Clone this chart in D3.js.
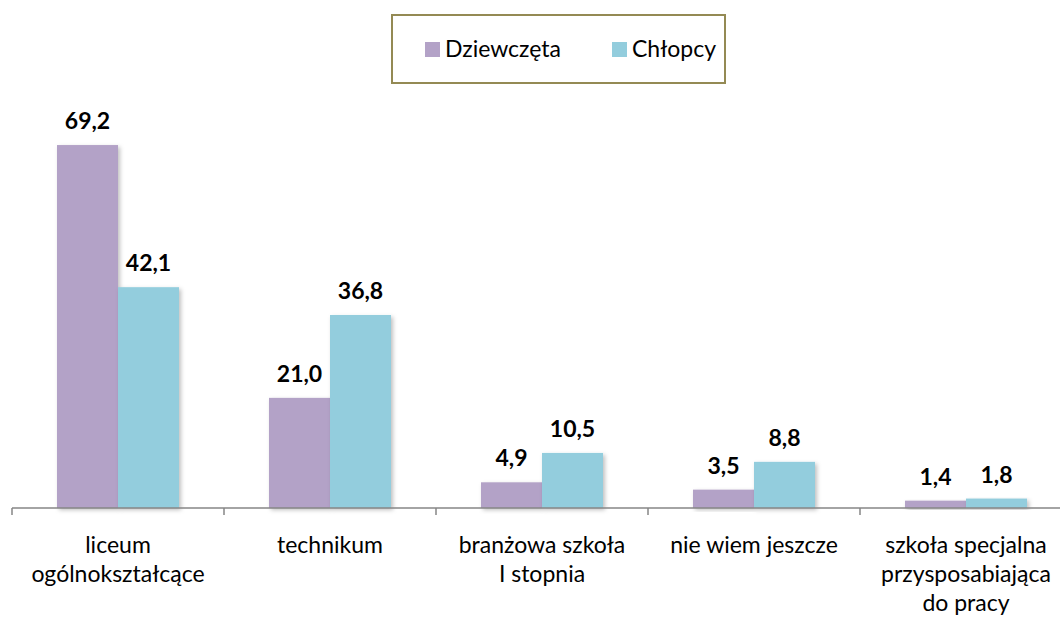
<!DOCTYPE html>
<html>
<head>
<meta charset="utf-8">
<script src="https://cdn.jsdelivr.net/npm/d3@7"></script>
<style>
  body { margin: 0; background: #fff; }
  text { font-family: Lato, "Open Sans", sans-serif; }
</style>
</head>
<body>
<script>
// Data
const categories = [
  ["liceum", "ogólnokształcące"],
  ["technikum"],
  ["branżowa szkoła", "I stopnia"],
  ["nie wiem jeszcze"],
  ["szkoła specjalna", "przysposabiająca", "do pracy"]
];
const seriesNames = ["Dziewczęta", "Chłopcy"];
const girls = [69.2, 21.0, 4.9, 3.5, 1.4];
const boys = [42.1, 36.8, 10.5, 8.8, 1.8];
const colors = ["#b3a2c7", "#93cddd"];

const width = 1060, height = 619;
const baseY = 508;

const svg = d3.select("body")
  .append("svg")
  .attr("width", width)
  .attr("height", height);

const defs = svg.append("defs");
const filter = defs.append("filter").attr("id", "shadow")
  .attr("x", "-10%").attr("y", "-10%").attr("width", "130%").attr("height", "130%");
filter.append("feDropShadow")
  .attr("dx", 2).attr("dy", 2).attr("stdDeviation", 2)
  .attr("flood-color", "#000").attr("flood-opacity", 0.25);

const keys = categories.map((d, i) => i);

const x0 = d3.scaleBand()
  .domain(keys)
  .range([12, 1072]);

const x1 = d3.scaleBand()
  .domain(seriesNames)
  .range([45, x0.bandwidth() - 45]);

const y = d3.scaleLinear()
  .domain([0, 80])
  .range([baseY, baseY - 80 * 5.245]);

const rows = keys.map(i => ({ i, values: [girls[i], boys[i]] }));

// Bars
const group = svg.append("g")
  .selectAll("g")
  .data(rows)
  .enter()
  .append("g")
  .attr("transform", d => `translate(${x0(d.i)},0)`);

group.selectAll("rect")
  .data(d => d.values.map((v, s) => ({ v, s })))
  .enter()
  .append("rect")
  .attr("x", d => x1(seriesNames[d.s]))
  .attr("y", d => y(d.v))
  .attr("width", x1.bandwidth())
  .attr("height", d => baseY - y(d.v))
  .attr("fill", d => colors[d.s])
  .attr("filter", "url(#shadow)");

group.selectAll("text.val")
  .data(d => d.values.map((v, s) => ({ v, s })))
  .enter()
  .append("text")
  .attr("class", "val")
  .attr("x", d => x1(seriesNames[d.s]) + x1.bandwidth() / 2)
  .attr("y", d => y(d.v) - 16)
  .attr("text-anchor", "middle")
  .attr("font-size", 23)
  .attr("font-weight", "bold")
  .attr("fill", "#000")
  .text(d => d.v.toFixed(1).replace(".", ","));

// Axis
const axis = svg.append("g").attr("transform", `translate(0,${baseY})`);
axis.append("line")
  .attr("x1", 12).attr("x2", 1072)
  .attr("y1", 0).attr("y2", 0)
  .attr("stroke", "#868686").attr("stroke-width", 1.5);
axis.selectAll("line.tick")
  .data(keys)
  .enter()
  .append("line")
  .attr("class", "tick")
  .attr("x1", d => x0(d)).attr("x2", d => x0(d))
  .attr("y1", 0).attr("y2", 7)
  .attr("stroke", "#868686").attr("stroke-width", 1.5);

const labels = axis.selectAll("text.cat")
  .data(rows)
  .enter()
  .append("text")
  .attr("class", "cat")
  .attr("text-anchor", "middle")
  .attr("font-size", 23)
  .attr("fill", "#000")
  .attr("x", d => x0(d.i) + x0.bandwidth() / 2);
labels.selectAll("tspan")
  .data(d => categories[d.i].map(t => ({ t, x: x0(d.i) + x0.bandwidth() / 2 })))
  .enter()
  .append("tspan")
  .attr("x", d => d.x)
  .attr("y", (d, k) => 45 + k * 29)
  .text(d => d.t);

// Legend
const legend = svg.append("g");
legend.append("rect")
  .attr("x", 392).attr("y", 15)
  .attr("width", 333).attr("height", 68)
  .attr("fill", "#fff")
  .attr("stroke", "#948a54").attr("stroke-width", 2);

const legendX = [425, 612];
seriesNames.forEach((name, s) => {
  legend.append("rect")
    .attr("x", legendX[s]).attr("y", 42)
    .attr("width", 15).attr("height", 15)
    .attr("fill", colors[s]);
  legend.append("text")
    .attr("x", legendX[s] + 20).attr("y", 57)
    .attr("font-size", 23)
    .attr("fill", "#000")
    .text(name);
});
</script>
</body>
</html>
